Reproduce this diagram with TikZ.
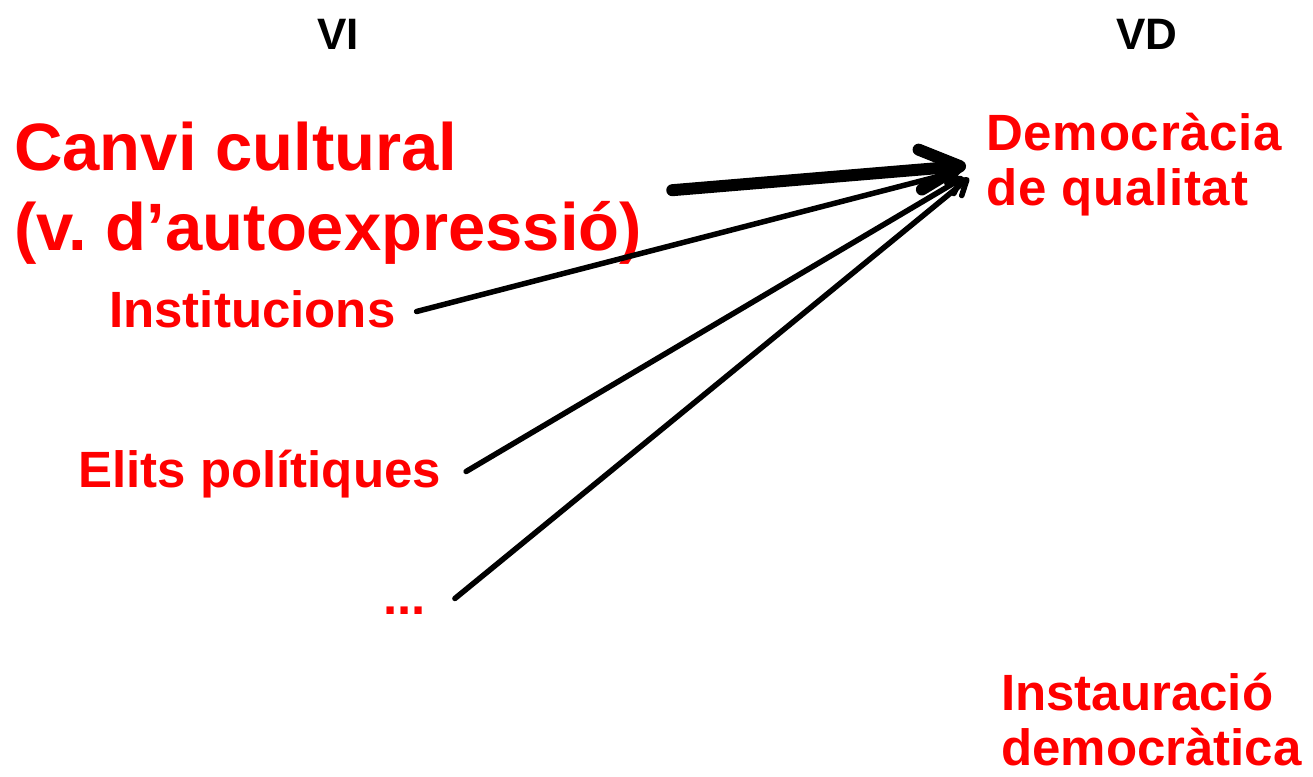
\documentclass[tikz,border=0pt]{standalone}
\usepackage{fontspec}
\setmainfont{Liberation Sans}
\usetikzlibrary{arrows.meta, positioning}
\frenchspacing

\begin{document}
\begin{tikzpicture}[x=1pt, y=-1pt, line cap=round]
	\tikzstyle{redtext} = [text=red, font=\bfseries\fontsize{51}{55}\selectfont, inner sep=0pt, align=left, anchor=base west]
	\tikzstyle{varname} = [font=\bfseries\fontsize{44}{50}\selectfont, inner sep=0pt, anchor=base]
	\tikzstyle{oneline} = [text height=36pt, text depth=5pt]
	\tikzstyle{bigarrow} = [-{Straight Barb[length=40pt, width=40pt, round]}, line width=12pt]
	\tikzstyle{thinarrow} = [-{Straight Barb[length=14pt, width=18pt, round]}, line width=5.5pt]

	\useasboundingbox (0,0) rectangle (1313,776);

	\path
		node[varname] (vi) at (338,50) {VI}
		node[varname] (vd) at (1147,50) {VD}

		node[redtext, font=\bfseries\fontsize{67}{80}\selectfont] (canvi) at (14,250) {Canvi cultural\\(v. d’autoexpressió)}
		node[redtext, oneline] (inst) at (109,327) {Institucions}
		node[redtext, oneline] (elits) at (78,487) {Elits polítiques}
		node[redtext, oneline] (dots) at (383,614) {...}

		node[redtext, font=\bfseries\fontsize{51}{55}\selectfont\addfontfeature{LetterSpace=1.5}] (qual) at (986,205) {Democràcia\\de qualitat}
		node[redtext] (inst2) at (1001,765) {Instauració\\democràtica}
	;

	% causes to the dependent variable
	\draw[thinarrow, shorten >=26pt] ([xshift=21pt]inst.east) -- (qual.west);
	\draw[thinarrow, shorten >=26pt] ([xshift=25pt]elits.east) -- (qual.west);
	\draw[thinarrow, shorten >=22pt] ([xshift=29pt]dots.east) -- (qual.west);
	\draw[bigarrow, shorten <=30pt, shorten >=20pt] (canvi.east) -- (qual.west);
\end{tikzpicture}
\end{document}
